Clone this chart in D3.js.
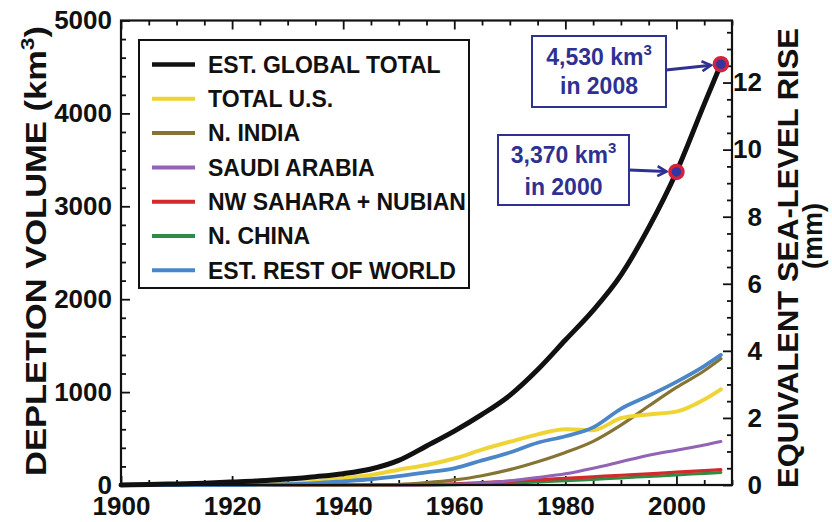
<!DOCTYPE html>
<html>
<head>
<meta charset="utf-8">
<script src="https://cdn.jsdelivr.net/npm/d3@7"></script>
<style>
  html, body { margin: 0; padding: 0; background: #fff; }
  svg { display: block; font-family: "Liberation Sans", Arial, Helvetica, sans-serif; font-weight: bold; }
</style>
</head>
<body>
<svg id="chart" width="832" height="522"></svg>
<script>
// Cumulative groundwater depletion, km^3
const years        = [1900,1905,1910,1915,1920,1925,1930,1935,1940,1945,1950,1955,1960,1965,1970,1975,1980,1985,1990,1995,2000,2005,2008];
const globalTotal  = [0,5,12,20,32,45,65,90,122,172,265,420,580,760,965,1240,1560,1880,2260,2770,3370,4100,4530];
const totalUS      = [0,0,0,1,3,6,15,35,72,108,165,215,285,380,465,545,600,590,720,760,790,920,1030];
const northIndia   = [0,0,0,0,0,0,0,0,0,0,5,25,55,100,165,250,350,470,645,850,1050,1230,1360];
const saudiArabia  = [0,0,0,0,0,0,0,0,0,0,0,2,8,20,45,80,120,180,250,320,375,430,468];
const nwSahara     = [0,0,0,0,0,0,0,0,0,0,0,3,12,25,40,55,72,88,105,120,138,155,165];
const northChina   = [0,0,0,0,0,0,0,0,0,0,0,0,3,10,20,32,45,60,75,92,108,125,135];
const restOfWorld  = [0,0,0,0,0,3,8,20,40,62,95,135,180,265,350,455,525,620,820,960,1110,1280,1400];

const seriesNames  = ["EST. GLOBAL TOTAL","TOTAL U.S.","N. INDIA","SAUDI ARABIA","NW SAHARA + NUBIAN","N. CHINA","EST. REST OF WORLD"];
const seriesValues = [globalTotal, totalUS, northIndia, saudiArabia, nwSahara, northChina, restOfWorld];
const seriesColors = ["#111111","#efd435","#857433","#9263b6","#d12b2b","#2f8c45","#4a86c8"];
const seriesWidths = [5,4,3.2,3,3.2,3,3.8];
// drawing order: thin regional lines first, global total last
const drawOrder    = [5,4,3,2,1,6,0];

// Annotated points
const markYears  = [2000, 2008];
const markValues = [3370, 4530];
const markLines  = [["3,370 km", "in 2000"], ["4,530 km", "in 2008"]];

// Axis ticks
const xMajor = [1900,1920,1940,1960,1980,2000];
const yMajor = [0,1000,2000,3000,4000,5000];
const mmMajor = [0,2,4,6,8,10,12];
const KM3_PER_MM = 361;   // ocean area in 10^6 km^2 -> km^3 per mm of sea level

const svg = d3.select("#chart");
const L = 121, R = 732, T = 20.5, B = 485;
const ink = "#111", navy = "#2e3192";

const x = d3.scaleLinear().domain([1900, 2010]).range([L, R]);
const y = d3.scaleLinear().domain([0, 5000]).range([B, T]);
const yMm = d3.scaleLinear().domain([0, 5000 / KM3_PER_MM]).range([B, T]);

const xMinor = d3.range(1900, 2011, 5).filter(v => !xMajor.includes(v));
const yMinor = d3.range(0, 5001, 200).filter(v => !yMajor.includes(v));
const mmMinor = d3.range(0, 13.6, 0.5).filter(v => !mmMajor.includes(v));

function styleAxis(g) {
  g.select(".domain").remove();
  g.selectAll(".tick line").attr("stroke", ink).attr("stroke-width", 1.8);
  g.selectAll(".tick text").attr("fill", ink).attr("font-size", 26)
    .attr("font-family", "'Liberation Sans', Arial, sans-serif").attr("font-weight", "bold");
}

// bottom axis
svg.append("g").attr("transform", `translate(0,${B})`)
  .call(d3.axisBottom(x).tickValues(xMajor).tickFormat(d3.format("d")).tickSize(-9).tickPadding(12))
  .call(styleAxis);
svg.append("g").attr("transform", `translate(0,${B})`)
  .call(d3.axisBottom(x).tickValues(xMinor).tickFormat("").tickSize(-5))
  .call(styleAxis);
// top axis (ticks only)
svg.append("g").attr("transform", `translate(0,${T})`)
  .call(d3.axisTop(x).tickValues(xMajor).tickFormat("").tickSize(-9))
  .call(styleAxis);
svg.append("g").attr("transform", `translate(0,${T})`)
  .call(d3.axisTop(x).tickValues(xMinor).tickFormat("").tickSize(-5))
  .call(styleAxis);
// left axis
svg.append("g").attr("transform", `translate(${L},0)`)
  .call(d3.axisLeft(y).tickValues(yMajor).tickFormat(d3.format("d")).tickSize(-9).tickPadding(9))
  .call(styleAxis);
svg.append("g").attr("transform", `translate(${L},0)`)
  .call(d3.axisLeft(y).tickValues(yMinor).tickFormat("").tickSize(-5))
  .call(styleAxis);
// right axis (sea-level equivalent)
svg.append("g").attr("transform", `translate(${R},0)`)
  .call(d3.axisRight(yMm).tickValues(mmMajor).tickFormat(d3.format("d")).tickSize(-9).tickPadding(30))
  .call(styleAxis)
  .selectAll(".tick text").attr("text-anchor", "end");
svg.append("g").attr("transform", `translate(${R},0)`)
  .call(d3.axisRight(yMm).tickValues(mmMinor).tickFormat("").tickSize(-5))
  .call(styleAxis);

// series lines
const line = d3.line().x((d, i) => x(years[i])).y(d => y(d)).curve(d3.curveMonotoneX);
drawOrder.forEach(k => {
  svg.append("path")
    .datum(seriesValues[k])
    .attr("d", line)
    .attr("fill", "none")
    .attr("stroke", seriesColors[k])
    .attr("stroke-width", seriesWidths[k])
    .attr("stroke-linejoin", "round")
    .attr("stroke-linecap", "round");
});

// plot frame
svg.append("rect").attr("x", L).attr("y", T).attr("width", R - L).attr("height", B - T)
  .attr("fill", "none").attr("stroke", ink).attr("stroke-width", 2.2);

// axis titles
const leftTitle = svg.append("text")
  .attr("transform", `translate(46,251) rotate(-90)`)
  .attr("text-anchor", "middle").attr("font-size", 29).attr("fill", ink)
  .attr("textLength", 450).attr("lengthAdjust", "spacingAndGlyphs");
leftTitle.append("tspan").text("DEPLETION VOLUME (km");
leftTitle.append("tspan").attr("font-size", 19).attr("dy", -12).text("3");
leftTitle.append("tspan").attr("dy", 12).text(")");

svg.append("text")
  .attr("transform", `translate(798,258) rotate(-90)`)
  .attr("text-anchor", "middle").attr("font-size", 29).attr("fill", ink)
  .attr("textLength", 460).attr("lengthAdjust", "spacingAndGlyphs")
  .text("EQUIVALENT SEA-LEVEL RISE");
svg.append("text")
  .attr("transform", `translate(822,236) rotate(-90)`)
  .attr("text-anchor", "middle").attr("font-size", 27).attr("fill", ink)
  .text("(mm)");

// legend
const lg = svg.append("g");
lg.append("rect").attr("x", 139).attr("y", 40).attr("width", 330).attr("height", 248)
  .attr("fill", "#fff").attr("stroke", ink).attr("stroke-width", 2);
seriesNames.forEach((name, i) => {
  const cy = 64.5 + i * 34.3;
  lg.append("line").attr("x1", 152).attr("x2", 195).attr("y1", cy).attr("y2", cy)
    .attr("stroke", seriesColors[i]).attr("stroke-width", i === 0 ? 4.5 : 4);
  lg.append("text").attr("x", 208).attr("y", cy).attr("dy", "0.36em")
    .attr("font-size", 23).attr("fill", ink).text(name);
});

// annotations: boxes, arrows and marked points
const defs = svg.append("defs");
defs.append("marker").attr("id", "arrow").attr("viewBox", "0 0 12 12")
  .attr("refX", 10).attr("refY", 6).attr("markerWidth", 12).attr("markerHeight", 12)
  .attr("markerUnits", "userSpaceOnUse").attr("orient", "auto")
  .append("path").attr("d", "M1,1 L10,6 L1,11").attr("fill", "none")
  .attr("stroke", navy).attr("stroke-width", 2.6).attr("stroke-linejoin", "miter");

const boxes = [
  { x0: 498, y0: 135, x1: 629, y1: 205, b1: 163, b2: 195, ay: 170 },
  { x0: 532, y0: 36,  x1: 666, y1: 107, b1: 65,  b2: 94,  ay: 70 }
];
markYears.forEach((yr, i) => {
  const bx = boxes[i];
  const px = x(yr), py = y(markValues[i]);
  const cx = (bx.x0 + bx.x1) / 2;
  svg.append("rect").attr("x", bx.x0).attr("y", bx.y0)
    .attr("width", bx.x1 - bx.x0).attr("height", bx.y1 - bx.y0)
    .attr("fill", "#fff").attr("stroke", navy).attr("stroke-width", 2);
  const t1 = svg.append("text").attr("x", cx).attr("y", bx.b1)
    .attr("text-anchor", "middle").attr("font-size", 23).attr("fill", navy);
  t1.append("tspan").text(markLines[i][0]);
  t1.append("tspan").attr("font-size", 15).attr("dy", -10).text("3");
  svg.append("text").attr("x", cx).attr("y", bx.b2)
    .attr("text-anchor", "middle").attr("font-size", 23).attr("fill", navy)
    .text(markLines[i][1]);
  // arrow from box edge toward the marked point
  const dx = px - bx.x1, dy = py - bx.ay, len = Math.hypot(dx, dy);
  const stop = 10;
  svg.append("line")
    .attr("x1", bx.x1).attr("y1", bx.ay)
    .attr("x2", px - dx / len * stop).attr("y2", py - dy / len * stop)
    .attr("stroke", navy).attr("stroke-width", 3).attr("marker-end", "url(#arrow)");
  svg.append("circle").attr("cx", px).attr("cy", py).attr("r", 6.5)
    .attr("fill", "#3434a4").attr("stroke", "#d3223a").attr("stroke-width", 3.5);
});
</script>
</body>
</html>
